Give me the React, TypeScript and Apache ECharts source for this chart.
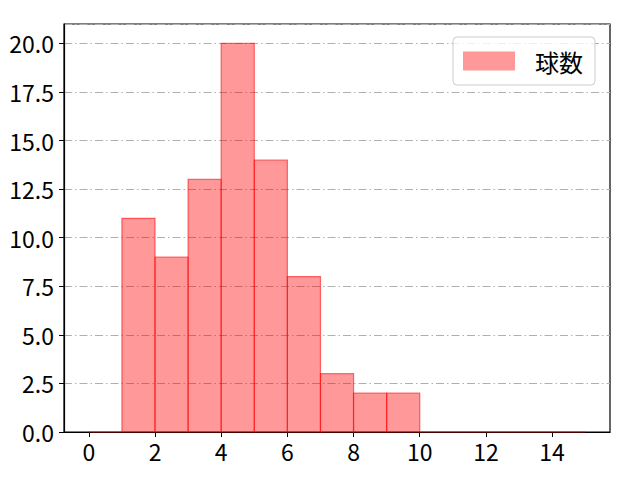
import { useEffect, useRef } from 'react';
import * as echarts from 'echarts';

// ヒストグラムのビン（左端, 右端）と度数
const binStarts = [0, 1, 2, 3, 4, 5, 6, 7, 8, 9, 10, 11, 12, 13, 14];
const binEnds = [1, 2, 3, 4, 5, 6, 7, 8, 9, 10, 11, 12, 13, 14, 15];
const counts = [0, 11, 9, 13, 20, 14, 8, 3, 2, 2, 0, 0, 0, 0, 0];
const xTicks = [0, 2, 4, 6, 8, 10, 12, 14];
const seriesName = '球数';

export default function App() {
    const chartRef = useRef<HTMLDivElement>(null);

    useEffect(() => {
        if (!chartRef.current) return;
        const chart = echarts.init(chartRef.current, null, { renderer: 'svg' });
        const fontFamily = "'Noto Sans CJK JP', 'DejaVu Sans', sans-serif";

        const data = binStarts.map((s, i) => [s, binEnds[i], counts[i]]);

        const option: echarts.EChartsOption = {
            animation: false,
            backgroundColor: '#fff',
            textStyle: { fontFamily },
            grid: {
                left: 64, right: 30, top: 24, bottom: 48,
                show: true, borderColor: '#000', borderWidth: 1.2,
                backgroundColor: 'transparent'
            },
            legend: {
                right: 45, top: 37,
                padding: [12, 12, 12, 10],
                borderColor: '#ccc', borderWidth: 1, borderRadius: 4,
                backgroundColor: 'rgba(255,255,255,0.8)',
                itemWidth: 52, itemHeight: 19,
                icon: 'rect',
                textStyle: { fontFamily, fontSize: 24, color: '#000', padding: [0, 0, 0, 15] },
                data: [seriesName]
            },
            xAxis: {
                type: 'value',
                min: -0.75,
                max: 15.75,
                axisLine: { show: true, onZero: false, lineStyle: { color: '#000', width: 1.2 } },
                axisTick: { show: true, customValues: xTicks, length: 5, lineStyle: { color: '#000' } },
                axisLabel: { customValues: xTicks, fontFamily, fontSize: 23, color: '#000', margin: 7 },
                splitLine: { show: false }
            },
            yAxis: {
                type: 'value',
                min: 0,
                max: 21,
                interval: 2.5,
                axisLine: { show: true, onZero: false, lineStyle: { color: '#000', width: 1.2 } },
                axisTick: { show: true, length: 5, lineStyle: { color: '#000' } },
                axisLabel: {
                    fontFamily, fontSize: 23, color: '#000', margin: 10,
                    formatter: (v: number) => v.toFixed(1),
                    showMaxLabel: false
                },
                splitLine: { show: true, lineStyle: { color: '#b0b0b0', type: [8, 3, 1.5, 3], width: 1 } }
            },
            series: [
                {
                    name: seriesName,
                    type: 'custom',
                    itemStyle: { color: 'rgba(255,0,0,0.4)', borderColor: 'rgba(255,0,0,0.5)' },
                    renderItem: (_params: any, api: any) => {
                        const p0 = api.coord([api.value(0), api.value(2)]);
                        const p1 = api.coord([api.value(1), 0]);
                        return {
                            type: 'rect',
                            shape: { x: p0[0], y: p0[1], width: p1[0] - p0[0], height: p1[1] - p0[1] },
                            style: { fill: 'rgba(255,0,0,0.4)', stroke: 'rgba(255,0,0,0.55)', lineWidth: 1.2 }
                        };
                    },
                    encode: { x: [0, 1], y: 2 },
                    data
                }
            ]
        };

        chart.setOption(option);
        return () => chart.dispose();
    }, []);

    return <div ref={chartRef} style={{ width: 640, height: 480, margin: -8 }} />;
}
